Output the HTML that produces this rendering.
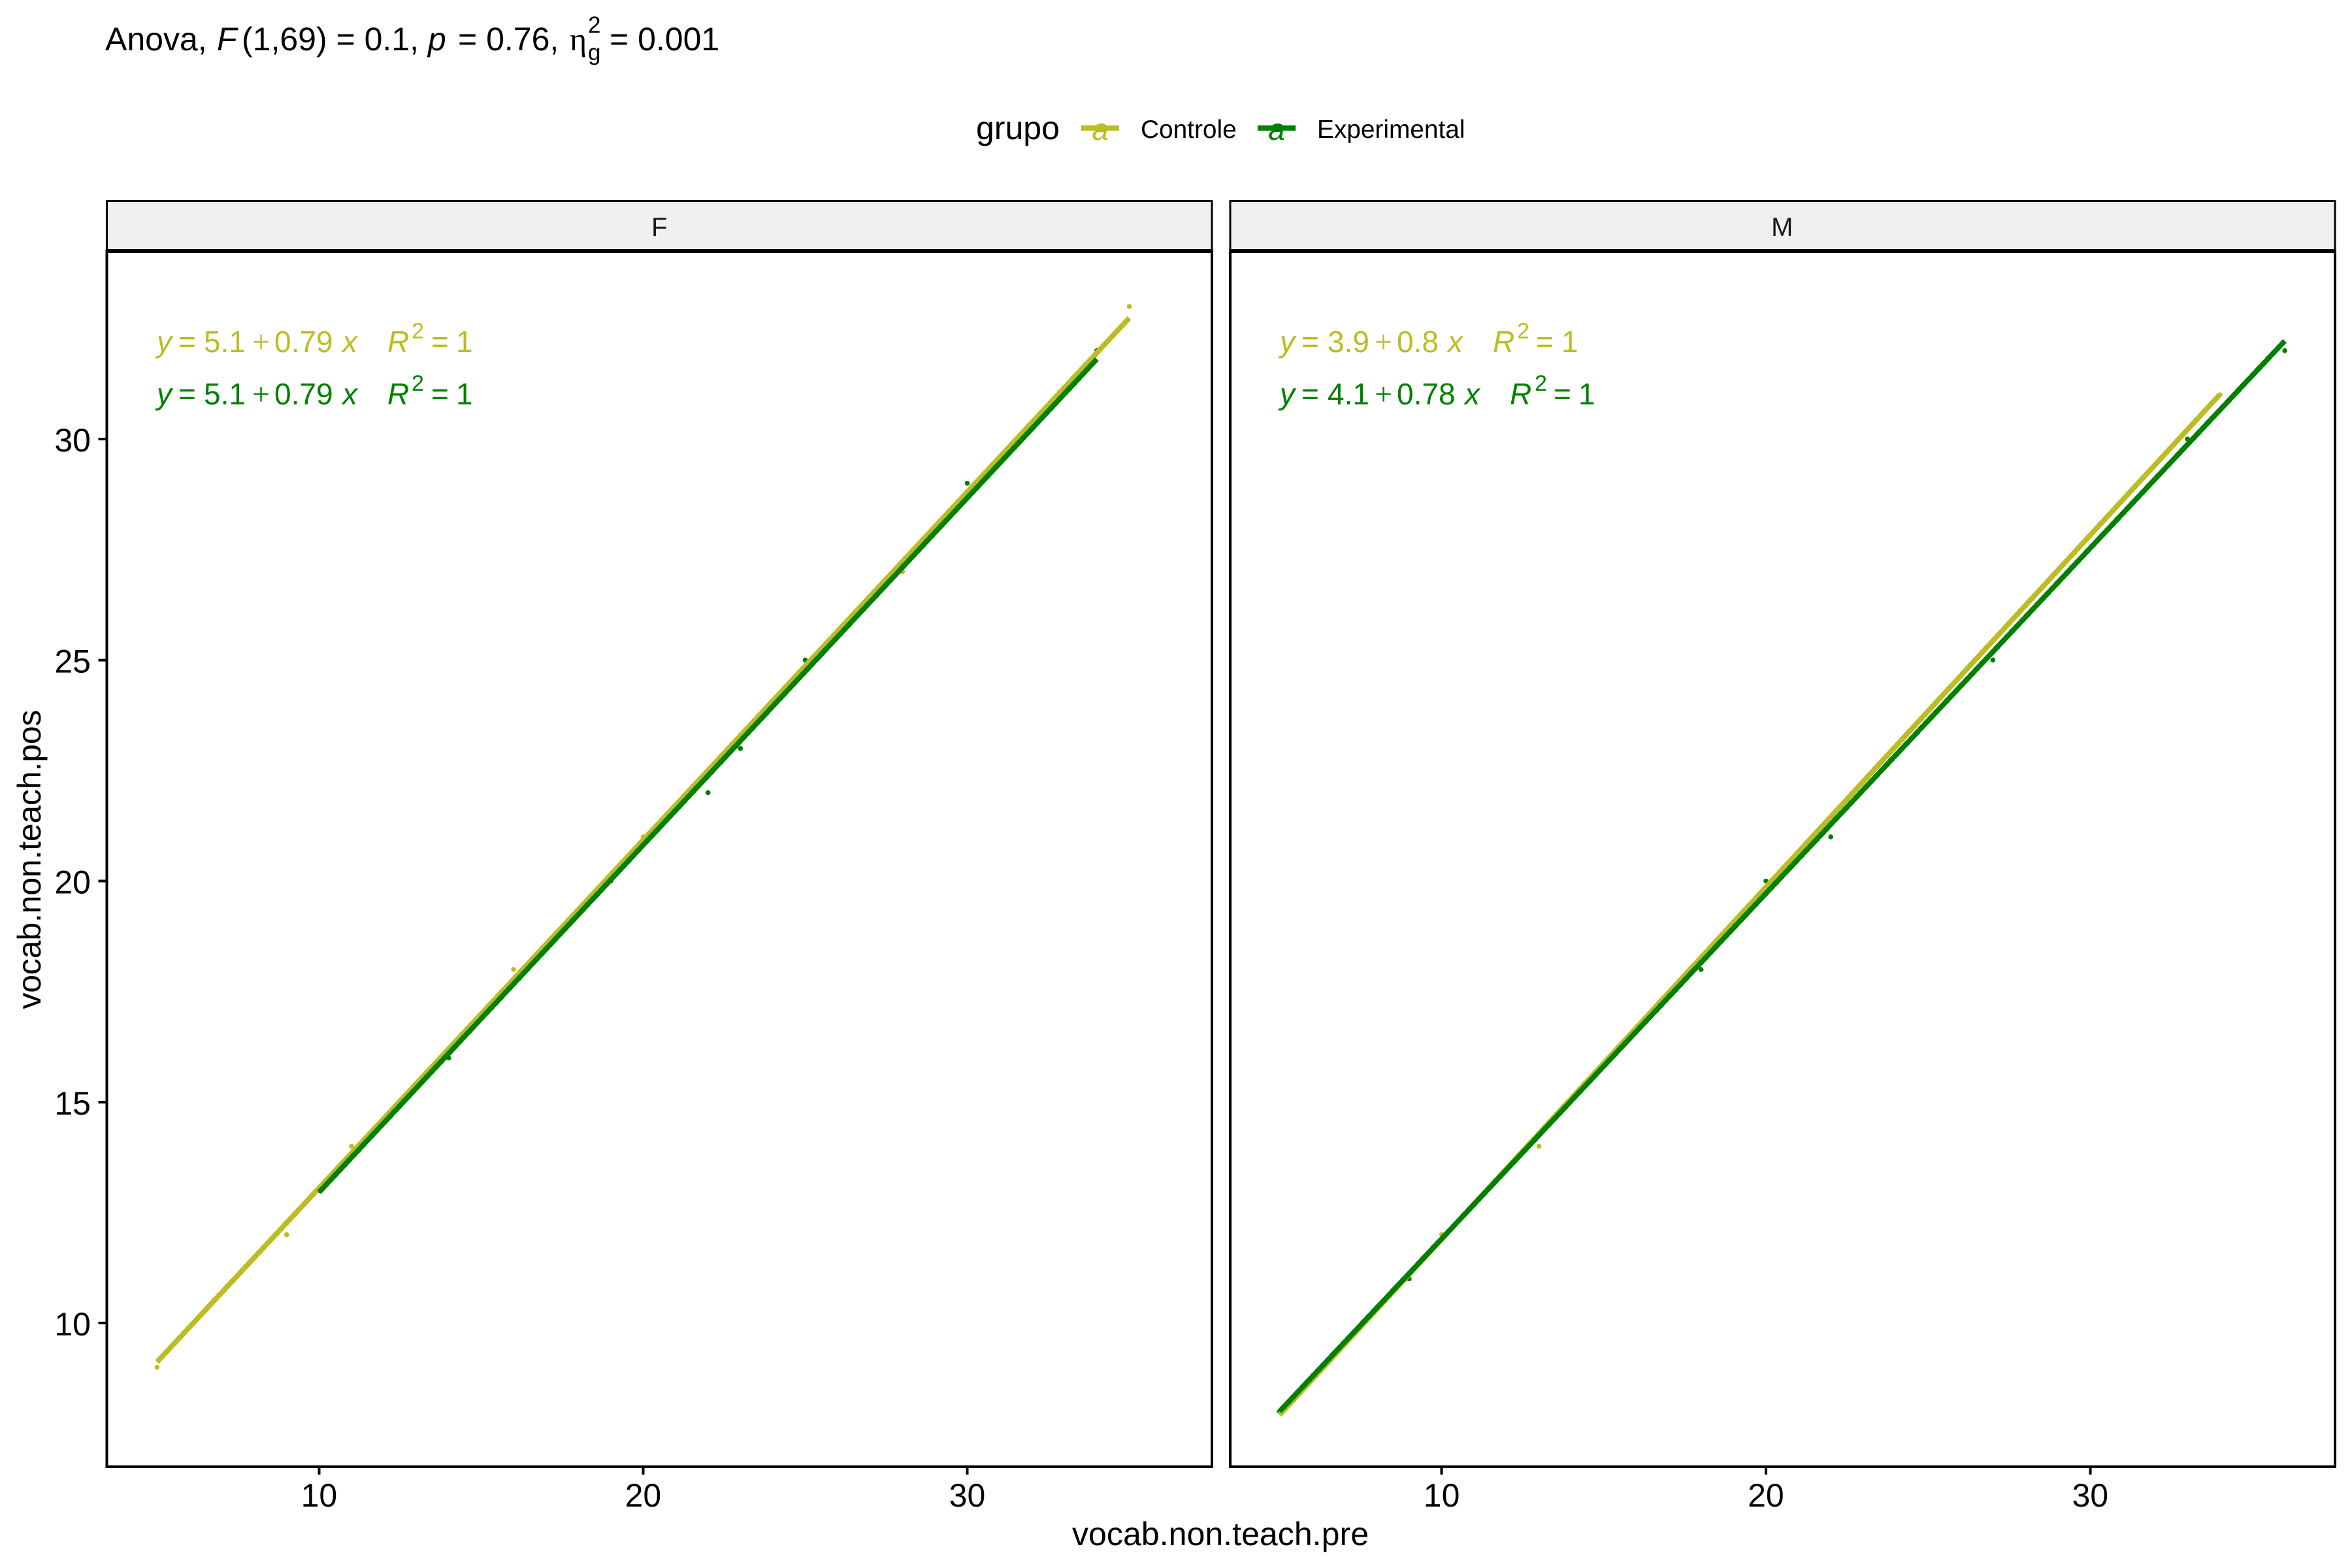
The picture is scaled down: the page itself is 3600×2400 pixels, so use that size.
<!DOCTYPE html>
<html lang="pt">
<head>
<meta charset="utf-8">
<title>vocab.non.teach.pos vs vocab.non.teach.pre</title>
<style>
html,body{margin:0;padding:0;background:#fff;}
svg{display:block;shape-rendering:crispEdges;}
text{font-family:"Liberation Sans",Arial,sans-serif;fill:#000;white-space:pre;}
.sym{font-family:"Liberation Serif","Times New Roman",serif;}
.ctl,.ctl text,text.ctl,.ctl tspan{fill:#BCBD22;}
.exp,.exp text,text.exp,.exp tspan{fill:#008000;}
.i{font-style:italic;}
</style>
</head>
<body>
<svg id="chart" xmlns="http://www.w3.org/2000/svg" width="3600" height="2400" viewBox="0 0 3600 2400">
  <rect x="0" y="0" width="3600" height="2400" fill="#fff"/>

  <g font-size="50">
    <text y="77" x="161">Anova,</text>
    <text y="77" x="332" class="i">F</text>
    <text y="77" x="370">(1,69) = 0.1,</text>
    <text y="77" x="655" class="i">p</text>
    <text y="77" x="701">= 0.76,</text>
    <text y="77" x="872" class="sym">η</text>
    <text y="50" x="900" font-size="35">2</text>
    <text y="92" x="900" font-size="35">g</text>
    <text y="77" x="933">= 0.001</text>
  </g>

  <g>
    <text x="1494" y="213" font-size="50">grupo</text>
    <g>
      <rect x="1655" y="192" width="58" height="8" fill="#BCBD22"/>
      <circle cx="1684" cy="196" r="4" fill="#BCBD22"/>
      <text class="ctl i" x="1684" y="214" font-size="46" text-anchor="middle">a</text>
      <text x="1746" y="211" font-size="38.8">Controle</text>
    </g>
    <g>
      <rect x="1925" y="192" width="58" height="8" fill="#008000"/>
      <circle cx="1954" cy="196" r="4" fill="#008000"/>
      <text class="exp i" x="1954" y="214" font-size="46" text-anchor="middle">a</text>
      <text x="2016" y="211" font-size="38.8">Experimental</text>
    </g>
  </g>

  <g id="plot-layer"></g>

  <g class="ctl" font-size="46">
    <text y="539" x="240" class="ctl i">y</text><text y="539" x="273" class="ctl">=</text><text y="539" x="312" class="ctl">5.1</text><text y="539" x="386" class="ctl sym" font-size="48">+</text><text y="539" x="420" class="ctl">0.79</text><text y="539" x="524" class="ctl i">x</text><text y="539" x="593" class="ctl i">R</text><text y="518" x="630" font-size="34" class="ctl">2</text><text y="539" x="660" class="ctl">=</text><text y="539" x="698" class="ctl">1</text>
  </g>
  <g class="exp" font-size="46">
    <text y="619" x="240" class="exp i">y</text><text y="619" x="273" class="exp">=</text><text y="619" x="312" class="exp">5.1</text><text y="619" x="386" class="exp sym" font-size="48">+</text><text y="619" x="420" class="exp">0.79</text><text y="619" x="524" class="exp i">x</text><text y="619" x="593" class="exp i">R</text><text y="598" x="630" font-size="34" class="exp">2</text><text y="619" x="660" class="exp">=</text><text y="619" x="698" class="exp">1</text>
  </g>
  <g class="ctl" font-size="46">
    <text y="539" x="1959" class="ctl i">y</text><text y="539" x="1992" class="ctl">=</text><text y="539" x="2032" class="ctl">3.9</text><text y="539" x="2104" class="ctl sym" font-size="48">+</text><text y="539" x="2138" class="ctl">0.8</text><text y="539" x="2216" class="ctl i">x</text><text y="539" x="2285" class="ctl i">R</text><text y="518" x="2322" font-size="34" class="ctl">2</text><text y="539" x="2351" class="ctl">=</text><text y="539" x="2390" class="ctl">1</text>
  </g>
  <g class="exp" font-size="46">
    <text y="619" x="1959" class="exp i">y</text><text y="619" x="1992" class="exp">=</text><text y="619" x="2032" class="exp">4.1</text><text y="619" x="2104" class="exp sym" font-size="48">+</text><text y="619" x="2138" class="exp">0.78</text><text y="619" x="2242" class="exp i">x</text><text y="619" x="2311" class="exp i">R</text><text y="598" x="2349" font-size="34" class="exp">2</text><text y="619" x="2378" class="exp">=</text><text y="619" x="2416" class="exp">1</text>
  </g>

  <text x="1868" y="2365" font-size="50" text-anchor="middle" textLength="454" lengthAdjust="spacing">vocab.non.teach.pre</text>
  <text transform="translate(62,1315.5) rotate(-90)" font-size="50" text-anchor="middle" textLength="458" lengthAdjust="spacing">vocab.non.teach.pos</text>
</svg>

<script>
const facetLabels = ['F', 'M'];
const xTickValues = [10, 20, 30];
const yTickValues = [10, 15, 20, 25, 30];
const xDomain = [3.45, 37.55];
const yDomain = [6.75, 34.25];

const fControleX = [5, 9, 11, 15, 16, 20, 28, 34, 35];
const fControleY = [9, 12, 14, 17, 18, 21, 27, 32, 33];
const fExperimentalX = [10, 14, 19, 22, 23, 25, 30, 34];
const fExperimentalY = [13, 16, 20, 22, 23, 25, 29, 32];
const mControleX = [5, 10, 13, 34];
const mControleY = [8, 12, 14, 31];
const mExperimentalX = [5, 9, 18, 20, 22, 27, 33, 36];
const mExperimentalY = [8, 11, 18, 20, 21, 25, 30, 32];

const fControleFitX = [5, 35];
const fControleFitY = [9.12, 32.74];
const fExperimentalFitX = [10, 34];
const fExperimentalFitY = [12.96, 31.81];
const mControleFitX = [5, 34];
const mControleFitY = [7.92, 31.01];
const mExperimentalFitX = [5, 36];
const mExperimentalFitY = [8, 32.22];

const CONTROLE_COLOR = '#BCBD22';
const EXPERIMENTAL_COLOR = '#008000';
const SVG_NS = 'http://www.w3.org/2000/svg';
const layer = document.getElementById('plot-layer');
const panelBounds = [
  { left: 163.5, right: 1855, frameLeft: 163.5 },
  { left: 1881.5, right: 3574, frameLeft: 1883 }
];
const PANEL_TOP = 384;
const PANEL_BOTTOM = 2245;
const Y_RANGE_TOP = 384.5;
const STRIP_TOP = 307.5;

function make(tag, attrs, parent) {
  const el = document.createElementNS(SVG_NS, tag);
  Object.keys(attrs).forEach(function (k) { el.setAttribute(k, attrs[k]); });
  parent.appendChild(el);
  return el;
}
function xScale(panel, v) {
  const b = panelBounds[panel];
  return b.left + (v - xDomain[0]) / (xDomain[1] - xDomain[0]) * (b.right - b.left);
}
function yScale(v) {
  return PANEL_BOTTOM - (v - yDomain[0]) / (yDomain[1] - yDomain[0]) * (PANEL_BOTTOM - Y_RANGE_TOP);
}
function drawPoints(panel, xs, ys, color, name) {
  const g = make('g', { fill: color }, layer);
  
  
  xs.forEach(function (x, i) {
    const c = make('circle', { cx: xScale(panel, x), cy: yScale(ys[i]), r: 3.8 }, g);
    
    
  });
}
function drawFit(panel, xs, ys, color, name) {
  const l = make('line', {
    x1: xScale(panel, xs[0]), y1: yScale(ys[0]),
    x2: xScale(panel, xs[1]), y2: yScale(ys[1]),
    stroke: color, 'stroke-width': 8, 'stroke-linecap': 'butt'
  }, layer);
  
  
}
function drawFrame(panel) {
  const b = panelBounds[panel];
  const key = facetLabels[panel].toLowerCase();
  const strip = make('rect', { x: b.frameLeft, y: STRIP_TOP, width: b.right - b.frameLeft, height: PANEL_TOP - STRIP_TOP, fill: '#F0F0F0', stroke: '#000', 'stroke-width': 3 }, layer);
  
  
  const label = make('text', { x: (b.left + b.right) / 2, y: 361, 'font-size': 40, 'text-anchor': 'middle' }, layer);
  label.setAttribute('style', 'fill:#1a1a1a');
  
  
  label.textContent = facetLabels[panel];
  const border = make('rect', { x: b.frameLeft, y: PANEL_TOP, width: b.right - b.frameLeft, height: PANEL_BOTTOM - PANEL_TOP, fill: 'none', stroke: '#000', 'stroke-width': 4 }, layer);
  
  
  const topRule = make('rect', { x: b.frameLeft - 1.5, y: 381, width: b.right - b.frameLeft + 3, height: 6, fill: '#000' }, layer);
  
  
  xTickValues.forEach(function (v) {
    const x = xScale(panel, v);
    const t = make('line', { x1: x, x2: x, y1: PANEL_BOTTOM, y2: 2257, stroke: '#000', 'stroke-width': 4 }, layer);
    
    
    const tx = make('text', { x: x, y: 2306, 'font-size': 50, 'text-anchor': 'middle' }, layer);
    
    
    tx.textContent = String(v);
  });
}
function drawYAxis() {
  yTickValues.forEach(function (v) {
    const y = yScale(v);
    const t = make('line', { x1: 150.5, x2: 163, y1: y, y2: y, stroke: '#000', 'stroke-width': 4 }, layer);
    
    
    const tx = make('text', { x: 139, y: y + 19, 'font-size': 50, 'text-anchor': 'end' }, layer);
    
    
    tx.textContent = String(v);
  });
}

drawPoints(0, fControleX, fControleY, CONTROLE_COLOR, 'f-controle');
drawPoints(0, fExperimentalX, fExperimentalY, EXPERIMENTAL_COLOR, 'f-experimental');
drawPoints(1, mControleX, mControleY, CONTROLE_COLOR, 'm-controle');
drawPoints(1, mExperimentalX, mExperimentalY, EXPERIMENTAL_COLOR, 'm-experimental');
drawFit(0, fControleFitX, fControleFitY, CONTROLE_COLOR, 'f-controle');
drawFit(0, fExperimentalFitX, fExperimentalFitY, EXPERIMENTAL_COLOR, 'f-experimental');
drawFit(1, mControleFitX, mControleFitY, CONTROLE_COLOR, 'm-controle');
drawFit(1, mExperimentalFitX, mExperimentalFitY, EXPERIMENTAL_COLOR, 'm-experimental');
drawFrame(0);
drawFrame(1);
drawYAxis();
</script>
</body>
</html>
